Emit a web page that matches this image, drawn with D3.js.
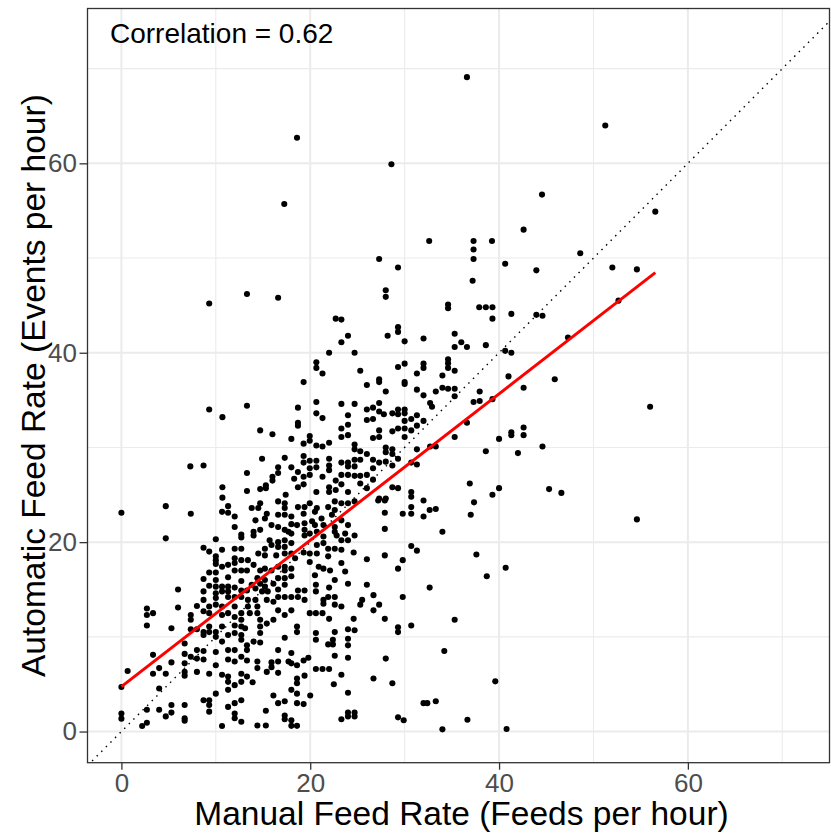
<!DOCTYPE html>
<html><head><meta charset="utf-8">
<script src="https://cdn.jsdelivr.net/npm/d3@7"></script>
<style>body{margin:0;background:#fff} svg{display:block}</style>
</head><body>
<svg id="chart" width="831" height="834"></svg>
<script>
// Manual feed rate (x) and automatic feed rate (y)
const manualRate = [
 36.6,18.6,51.25,28.6,17.25,44.55,56.55,42.6,32.6,37.3,37.3,39.25,48.6,
 9.3,13.3,16.6,9.3,10.7,13.3,14.7,16.0,7.3,8.7,14.9,17.3,
 13.3,16.6,16.6,16.0,16.0,10.7,10.7,13.3,14.7,15.3,15.3,17.4,
 27.3,29.3,37.3,37.2,28.0,28.0,34.6,34.6,37.9,22.7,23.3,29.3,
 29.3,24.0,28.2,23.3,30.0,32.0,35.3,36.0,35.3,36.6,22.0,24.7,
 20.65,20.65,21.3,25.3,29.3,30.0,32.0,32.0,34.6,34.6,34.6,35.3,
 31.3,34.0,19.3,26.0,27.3,27.3,30.0,30.0,28.0,31.3,33.3,34.0,
 34.6,35.3,35.3,37.95,32.0,32.7,32.9,20.65,20.65,21.3,18.7,18.7,
 18.7,23.3,24.7,27.3,26.0,26.65,26.0,26.65,27.3,27.8,28.7,29.3,
 30.0,30.0,29.3,30.7,31.3,30.0,30.0,29.3,30.7,31.3,32.0,23.3,
 23.3,24.0,24.0,24.0,27.3,27.3,26.65,28.7,30.0,35.3,36.6,37.3,
 37.95,18.0,19.95,19.95,19.3,20.65,21.3,22.0,24.7,24.7,25.3,26.0,
 28.0,28.0,28.7,28.7,31.3,32.7,33.3,19.3,19.3,19.95,20.65,22.0,
 22.0,22.0,23.3,24.0,24.7,24.0,24.7,25.3,26.65,26.65,27.3,28.0,
 29.3,28.7,30.7,31.3,18.0,18.7,19.95,20.65,19.3,19.95,18.3,21.3,
 22.7,23.3,24.0,24.7,25.3,26.0,26.65,18.7,19.3,20.65,22.0,22.0,
 22.7,23.3,24.0,25.3,26.0,27.3,28.0,28.7,29.3,30.7,30.7,36.9,
 40.65,43.95,52.0,54.6,38.6,39.3,39.3,41.3,43.95,44.6,47.3,52.65,
 38.6,40.65,41.3,41.0,42.6,45.9,39.3,56.0,42.6,41.3,41.3,42.6,
 40.0,38.6,42.0,44.6,40.0,39.3,45.3,46.6,54.6,
 0,4.7,7.35,4.7,10.66,11.3,11.3,12.0,12.0,12.7,12.7,10.0,
 8.7,9.3,10.66,10.0,10.0,10.0,12.0,12.7,12.0,12.7,12.0,11.3,
 10.66,12.0,12.7,9.3,10.0,8.7,10.0,11.3,12.7,6.0,8.7,9.3,
 10.0,10.66,11.3,12.0,10.0,10.0,10.66,11.3,12.0,12.7,11.3,12.7,
 6.0,8.0,2.7,2.7,3.35,2.7,5.3,7.35,7.35,7.35,8.0,8.7,
 8.7,9.3,9.3,10.0,10.66,10.66,11.3,12.0,12.7,12.0,8.7,8.7,
 9.3,9.3,10.0,10.0,10.66,11.3,12.0,12.0,12.7,12.7,12.7,12.7,
 6.7,6.7,3.35,0.66,0,3.35,4.0,4.7,5.3,6.7,6.7,6.7,
 7.35,8.0,8.0,8.0,8.7,9.3,8.7,10.0,10.0,10.66,11.3,11.3,
 12.0,12.0,12.7,10.66,11.3,11.3,11.3,12.7,12.7,12.0,10.0,4.0,
 8.7,9.3,9.3,9.3,11.3,12.0,12.7,12.0,12.0,12.7,10.66,0,
 0,2.7,4.0,5.3,5.3,4.7,6.7,6.7,6.7,2.7,2.2,
 14.7,16.6,17.3,17.3,18.7,19.4,19.95,20.7,21.9,22.6,23.3,24.0,
 24.7,27.2,27.9,13.8,14.5,15.4,27.9,29.8,16.6,17.3,18.0,19.3,
 20.5,21.2,22.3,22.6,23.3,15.2,14.2,15.9,16.6,18.0,18.6,19.4,
 20.2,20.5,21.4,22.6,24.0,27.9,14.0,14.7,14.0,17.3,17.7,18.0,
 19.4,19.4,19.95,20.7,21.4,22.6,22.8,23.7,24.7,23.3,24.0,15.7,
 16.6,17.3,15.9,16.6,17.3,18.0,20.7,21.4,21.9,22.6,23.3,24.6,
 27.9,15.2,14.5,15.2,13.4,14.0,16.4,17.3,18.0,18.4,19.3,19.95,
 20.7,19.95,21.9,23.3,26.0,29.8,14.7,15.2,13.3,15.9,16.6,17.3,
 17.3,18.0,20.9,21.4,20.5,22.1,23.7,29.3,14.4,15.2,16.6,17.3,
 18.0,17.3,16.1,14.7,15.2,13.8,22.6,24.0,26.0,20.6,22.0,13.3,
 14.2,14.9,15.5,16.6,16.6,17.3,18.0,18.7,18.7,19.4,19.4,20.6,
 21.9,22.6,21.4,21.4,22.6,23.3,25.5,25.3,26.7,26.7,27.3,29.8,
 13.4,13.4,14.2,14.4,13.6,14.4,15.4,16.1,16.6,17.3,18.0,19.95,
 20.6,21.3,22.0,24.6,27.9,14.7,15.4,16.1,13.1,14.7,14.7,18.6,
 18.6,24.0,24.7,22.6,20.6,20.6,17.3,14.0,14.7,13.3,13.3,22.4,
 22.4,21.9,24.0,24.0,29.3,29.3,16.6,18.0,13.3,14.4,15.9,16.6,
 17.7,18.0,18.6,19.3,19.8,22.6,24.0,28.0,14.4,15.4,15.9,16.6,
 20.6,21.3,22.0,19.4,18.6,18.6,13.3,13.9,23.3,22.5,26.7,28.7,
 18.0,18.6,16.1,20.0,24.0,16.6,17.3,18.6,19.3,15.3,17.3,17.3,
 18.0,18.0,18.6,14.4,15.3,23.3,24.0,24.0,24.7,24.7,29.3,29.9,
 32.0,37.35,30.7,30.7,32.0,32.65,33.3,37.0,34.0,30.7,31.3,37.6,
 40.7,38.7,32.65,35.3,30.7,34.2,39.6,32.0,32.4,33.3,36.65,34.0,40.8
];
const autoRate = [
 69.1,62.7,64.0,59.9,55.7,56.7,54.9,53.0,51.8,51.8,50.9,51.8,50.5,
 45.2,46.2,45.8,34.0,33.2,34.4,31.8,31.4,28.0,28.1,28.8,28.9,
 27.3,27.9,27.3,26.9,26.5,25.8,24.7,25.4,25.6,26.0,25.7,25.0,
 49.9,49.0,49.9,47.6,46.6,45.9,45.1,44.7,44.8,43.6,43.5,42.7,
 42.2,41.8,41.8,41.1,41.2,41.5,42.0,41.1,40.6,40.6,40.0,40.0,
 39.0,38.4,37.8,38.1,38.5,38.85,38.85,38.4,39.3,38.9,38.4,38.1,
 37.8,37.6,36.9,36.6,37.2,36.9,36.9,36.7,35.9,36.1,35.9,36.3,
 36.2,36.2,35.4,35.9,35.5,34.7,34.3,34.8,33.6,33.1,34.2,32.6,
 32.3,34.6,34.6,34.7,34.0,34.2,32.9,33.0,33.8,33.5,33.6,34.0,
 34.0,33.6,33.5,33.0,33.4,32.8,32.0,32.0,31.8,32.3,32.8,32.0,
 31.1,33.4,32.4,31.3,31.8,31.1,31.0,31.7,31.1,31.1,32.6,34.8,
 34.9,30.9,31.2,30.7,30.4,30.2,30.1,30.5,30.3,29.8,29.6,29.3,
 30.0,29.5,29.8,29.3,29.8,30.1,30.1,29.1,28.4,28.6,28.6,28.8,
 28.1,27.6,28.4,28.4,28.7,28.0,28.0,28.7,28.7,27.8,28.4,28.5,
 28.8,28.1,28.4,28.2,27.9,27.4,27.8,27.9,26.9,27.1,26.7,26.9,
 26.5,27.1,27.1,27.0,27.0,27.1,26.6,25.8,26.1,25.3,25.8,25.3,
 25.5,26.1,25.3,26.2,25.7,24.6,24.6,25.8,25.7,25.3,24.8,26.2,
 49.4,48.7,49.0,48.8,44.8,44.8,43.6,44.1,44.0,43.9,41.6,45.5,
 40.8,40.2,40.0,37.5,36.3,37.2,35.1,34.3,32.1,31.6,31.3,31.3,
 30.9,29.6,29.4,30.1,25.7,25.0,25.6,25.2,22.4,
 23.1,23.8,23.0,20.4,23.2,23.8,23.1,22.7,21.6,20.8,20.5,20.3,
 19.4,19.0,19.2,18.5,18.1,17.7,19.3,19.3,18.3,18.1,17.8,17.6,
 17.4,17.0,17.0,16.8,16.8,16.1,16.0,16.3,15.9,15.0,14.8,15.4,
 15.3,15.3,15.3,15.2,14.6,14.1,14.8,14.2,14.2,14.2,14.8,14.9,
 13.1,13.25,13.0,12.3,12.5,11.2,10.9,12.3,11.8,10.8,10.8,12.7,
 13.9,13.2,12.5,13.4,13.2,12.3,12.5,12.1,12.5,13.2,10.5,10.2,
 10.5,11.1,10.5,10.0,11.1,10.2,10.4,11.2,11.8,11.1,10.2,9.7,
 9.3,8.2,8.1,6.4,4.7,6.1,6.7,6.1,7.3,7.2,6.3,5.9,
 7.9,8.6,7.7,6.3,8.5,6.1,7.6,8.4,7.0,9.5,8.6,7.6,
 8.6,7.4,7.9,6.0,5.8,5.25,4.4,6.1,5.25,4.9,4.0,4.55,
 3.3,3.3,2.8,2.1,2.6,3.0,3.3,1.9,1.4,1.04,0.58,1.9,
 1.36,2.3,2.3,2.8,2.0,1.6,2.8,1.4,1.15,0.93,0.58,
 24.1,24.3,24.1,23.6,23.7,23.7,24.1,23.6,23.7,24.3,24.1,24.1,
 24.3,24.4,24.4,23.6,23.6,23.0,23.1,23.0,22.9,22.9,22.7,23.0,
 23.2,22.5,22.9,23.4,22.3,22.5,22.3,21.8,21.6,21.9,21.8,22.0,
 22.2,21.8,21.8,21.6,21.8,21.4,21.1,21.3,20.7,21.3,21.1,20.9,
 21.3,20.7,20.9,21.1,20.6,21.1,20.7,20.9,20.7,20.2,20.2,20.2,
 20.0,20.2,19.7,19.5,19.5,19.9,19.7,19.9,19.3,19.3,19.2,18.9,
 18.6,19.3,18.8,18.6,18.1,17.6,18.6,18.8,18.8,18.3,18.9,18.8,
 18.8,17.9,18.5,17.8,18.2,18.1,17.0,17.2,17.0,17.0,17.4,17.4,
 17.0,17.2,17.4,17.2,16.5,17.0,16.9,17.2,16.2,16.0,16.2,16.2,
 16.4,15.5,15.6,15.6,15.3,15.5,16.0,15.6,15.5,15.5,15.2,14.9,
 15.1,14.8,14.8,15.0,14.2,14.2,14.2,14.2,14.9,14.9,13.9,14.8,
 14.2,14.2,13.9,13.5,13.4,13.2,13.9,13.4,14.4,12.8,13.4,14.2,
 13.9,13.2,13.9,13.2,12.5,12.5,13.9,13.7,12.8,12.3,12.8,12.5,
 12.5,12.5,11.9,11.9,11.9,11.8,11.4,11.8,10.9,11.1,10.4,11.1,
 10.5,10.8,10.7,10.5,10.4,9.7,9.9,9.5,9.4,9.1,8.6,9.7,
 9.2,9.2,9.8,9.1,11.0,10.5,8.6,8.3,7.5,7.4,7.3,7.4,
 7.4,7.2,7.0,7.5,7.8,8.0,7.8,7.7,6.7,6.3,6.8,6.2,
 6.6,6.6,6.6,5.9,5.6,5.1,5.8,5.2,6.0,5.0,5.6,5.1,
 4.4,4.0,3.8,3.8,4.1,3.0,3.2,3.0,2.9,2.2,1.7,1.3,
 1.2,0.6,0.6,0.64,0.64,1.3,1.6,2.0,2.0,1.6,1.5,1.2,
 24.4,24.2,23.7,23.0,22.7,23.4,23.5,22.9,21.1,19.6,19.1,18.7,
 17.3,16.4,15.2,11.8,11.2,8.5,5.3,3.0,3.0,3.2,1.25,0.23,0.27
];
const xTicks = [0, 20, 40, 60];
const yTicks = [0, 20, 40, 60];
const xMinorTicks = [10, 30, 50, 70];
const yMinorTicks = [10, 30, 50, 70];
const xDomain = [-3.59, 75.0];
const yDomain = [-3.29, 76.35];
const fitIntercept = 4.74;   // red least-squares line
const fitSlope = 0.773;
const corrLabel = "Correlation = 0.62";
const xTitle = "Manual Feed Rate (Feeds per hour)";
const yTitle = "Automatic Feed Rate (Events per hour)";

const W = 831, H = 834;
const m = {top: 8.5, right: 1.5, bottom: 71.3, left: 87.5};
const FONT = "'Liberation Sans', Arial, Helvetica, sans-serif";

const svg = d3.select("#chart");
const x = d3.scaleLinear().domain(xDomain).range([m.left, W - m.right]);
const y = d3.scaleLinear().domain(yDomain).range([H - m.bottom, m.top]);

const n = Math.min(manualRate.length, autoRate.length);
const pts = d3.range(n).map(i => ({x: manualRate[i], y: autoRate[i]}));

svg.append("defs").append("clipPath").attr("id", "panel")
  .append("rect").attr("x", m.left).attr("y", m.top)
  .attr("width", W - m.left - m.right).attr("height", H - m.top - m.bottom);

const grid = svg.append("g");
grid.selectAll(".vmin").data(xMinorTicks).join("line")
  .attr("x1", d => x(d)).attr("x2", d => x(d)).attr("y1", m.top).attr("y2", H - m.bottom)
  .attr("stroke", "#EBEBEB").attr("stroke-width", 1.1);
grid.selectAll(".hmin").data(yMinorTicks).join("line")
  .attr("y1", d => y(d)).attr("y2", d => y(d)).attr("x1", m.left).attr("x2", W - m.right)
  .attr("stroke", "#EBEBEB").attr("stroke-width", 1.1);
grid.selectAll(".vmaj").data(xTicks).join("line")
  .attr("x1", d => x(d)).attr("x2", d => x(d)).attr("y1", m.top).attr("y2", H - m.bottom)
  .attr("stroke", "#EBEBEB").attr("stroke-width", 2);
grid.selectAll(".hmaj").data(yTicks).join("line")
  .attr("y1", d => y(d)).attr("y2", d => y(d)).attr("x1", m.left).attr("x2", W - m.right)
  .attr("stroke", "#EBEBEB").attr("stroke-width", 2);

const plot = svg.append("g").attr("clip-path", "url(#panel)");
plot.selectAll("circle").data(pts).join("circle")
  .attr("cx", d => x(d.x)).attr("cy", d => y(d.y)).attr("r", 3.05).attr("fill", "#000");

const lo = Math.min(xDomain[0], yDomain[0]), hi = Math.max(xDomain[1], yDomain[1]);
plot.append("line")
  .attr("x1", x(lo)).attr("y1", y(lo)).attr("x2", x(hi)).attr("y2", y(hi))
  .attr("stroke", "#000").attr("stroke-width", 1.4).attr("stroke-dasharray", "1.5,5");

const [xmin, xmax] = d3.extent(pts, d => d.x);
plot.append("line")
  .attr("x1", x(xmin)).attr("y1", y(fitIntercept + fitSlope * xmin))
  .attr("x2", x(xmax)).attr("y2", y(fitIntercept + fitSlope * xmax))
  .attr("stroke", "#FF0000").attr("stroke-width", 3);

svg.append("text").attr("x", 110).attr("y", 43)
  .attr("font-family", FONT).attr("font-size", 28).attr("fill", "#000").text(corrLabel);

svg.append("rect").attr("x", m.left).attr("y", m.top)
  .attr("width", W - m.left - m.right).attr("height", H - m.top - m.bottom)
  .attr("fill", "none").attr("stroke", "#333333").attr("stroke-width", 1.3);

const xAxis = svg.append("g").attr("transform", `translate(0,${H - m.bottom})`)
  .call(d3.axisBottom(x).tickValues(xTicks).tickSize(7).tickPadding(3.5).tickFormat(d3.format("d")));
const yAxis = svg.append("g").attr("transform", `translate(${m.left},0)`)
  .call(d3.axisLeft(y).tickValues(yTicks).tickSize(8).tickPadding(2.5).tickFormat(d3.format("d")));
[xAxis, yAxis].forEach(g => {
  g.select(".domain").remove();
  g.selectAll(".tick line").attr("stroke", "#333333").attr("stroke-width", 1.3);
  g.selectAll(".tick text").attr("font-family", FONT).attr("font-size", 26).attr("fill", "#4D4D4D");
});

svg.append("text").attr("x", (m.left + W - m.right) / 2 + 3).attr("y", 825)
  .attr("text-anchor", "middle").attr("font-family", FONT).attr("font-size", 33.5)
  .attr("fill", "#000").text(xTitle);
svg.append("text")
  .attr("transform", `translate(45,${(m.top + H - m.bottom) / 2}) rotate(-90)`)
  .attr("text-anchor", "middle").attr("font-family", FONT).attr("font-size", 33.5)
  .attr("fill", "#000").text(yTitle);
</script>
</body></html>
